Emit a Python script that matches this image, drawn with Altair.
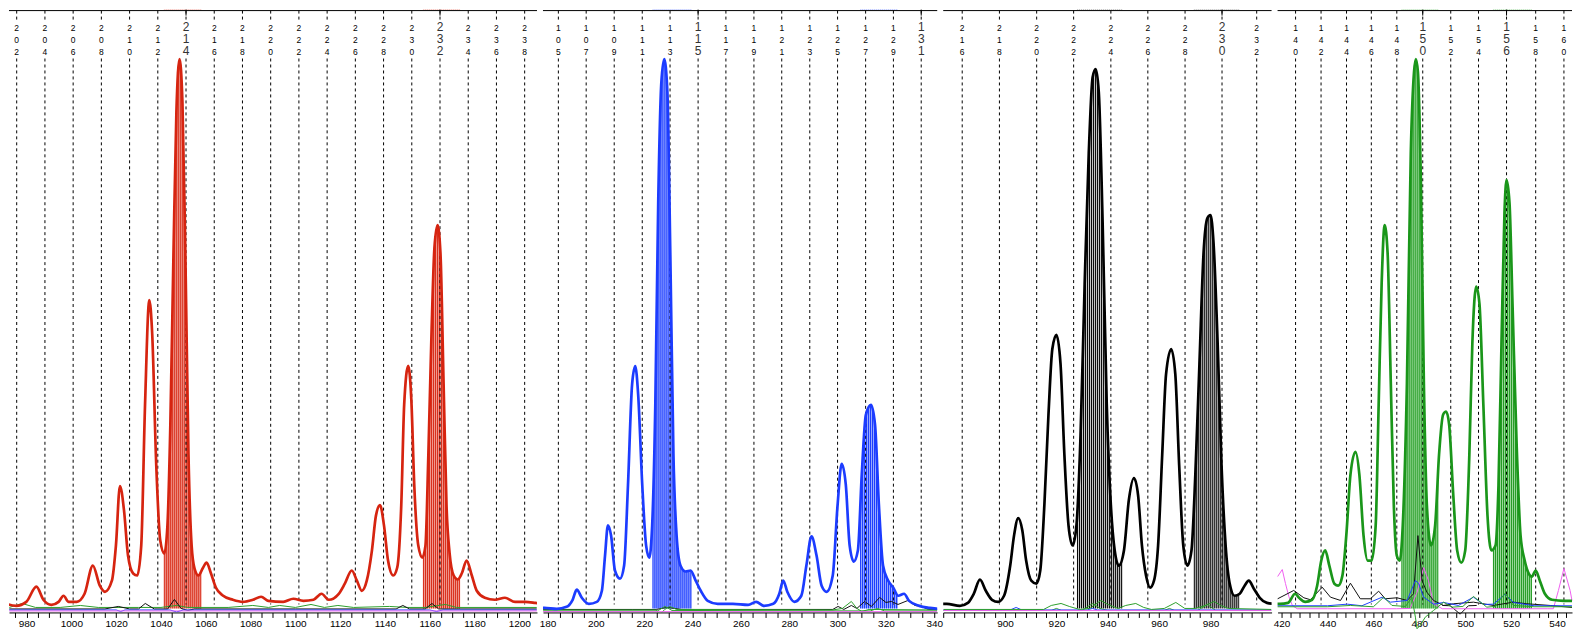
import altair as alt
import pandas as pd

PLOT_H = 604
FONT = "Liberation Sans"

# ---------------- Panel 1 : red dye ----------------
P1_DOMAIN = [972.16, 1207.9]
P1_WIDTH = 529
P1_BP = [970.9, 975.4, 979.9, 984.4, 987.5, 991.1, 994.3, 996.5, 998.8, 1002.4,
         1005.9, 1009.6, 1012.7, 1015.0, 1018.1, 1019.9, 1021.7, 1023.5, 1025.3, 1027.6,
         1029.4, 1031.2, 1032.9, 1034.8, 1036.1, 1037.9, 1039.7, 1041.5, 1042.9, 1044.2,
         1045.6, 1046.9, 1048.3, 1049.6, 1050.9, 1052.3, 1053.7, 1055.0, 1056.8, 1058.6,
         1060.4, 1062.2, 1064.5, 1067.6, 1072.1, 1076.6, 1081.1, 1084.7, 1087.9, 1094.6,
         1099.1, 1103.6, 1108.1, 1111.7, 1114.9, 1119.4, 1122.1, 1125.2, 1127.5, 1129.7,
         1131.9, 1134.2, 1136.0, 1137.8, 1139.6, 1141.4, 1143.7, 1145.5, 1147.3, 1148.6,
         1150.4, 1151.8, 1153.1, 1154.9, 1156.7, 1158.1, 1159.4, 1160.8, 1162.1, 1163.5,
         1164.8, 1166.2, 1167.5, 1168.9, 1170.7, 1172.5, 1174.3, 1176.5, 1178.8, 1181.0,
         1184.6, 1189.1, 1193.6, 1198.1, 1202.6, 1207.1, 1210.3]
P1_H = [8.6, 6.6, 10.6, 25.8, 12.7, 7.6, 10.6, 16.7, 10.6, 10.6,
        18.7, 47, 26.8, 20.7, 31.8, 67, 126.7, 102.5, 57, 39,
        37, 67, 208, 313, 279, 148, 72, 59, 87, 188,
        360, 501, 554.5, 511, 360, 158, 67, 44, 37, 44,
        50, 40, 25, 17, 12.7, 10.6, 12.7, 15.7, 11.6, 10.6,
        13.7, 11.6, 12.7, 18.7, 12.7, 18.7, 28.8, 42, 31.8, 21.7,
        31.8, 62, 97, 107.5, 87, 52, 37, 45, 107.5, 208,
        247, 213, 128, 67, 55, 67, 158, 279, 365, 388,
        360, 229, 107.5, 59, 37, 33, 39, 52, 37, 21.7,
        14.7, 12.7, 14.7, 10.6, 10.6, 9.6, 8.6]
P1_ALLELES = [202, 204, 206, 208, 210, 212, 214, 216, 218, 220, 222, 224, 226, 228, 230, 232, 234, 236, 238]
P1_ALLELE_BP = [975.6, 988.2, 1000.8, 1013.4, 1026.0, 1038.6, 1051.2, 1063.8, 1076.4, 1089.0,
                1101.6, 1114.2, 1126.8, 1139.4, 1152.0, 1164.6, 1177.2, 1189.8, 1202.4]
P1_CALLED = [214, 232]
P1_BINS = [[1041.5, 1058.2], [1157.2, 1173.6]]
P1_TICKS = list(range(975, 1210, 5))
P1_LABEL_RANGE = [975, 1205]
P1_GREEN_BP = [972.3, 978, 984, 995, 1004, 1012, 1030, 1040, 1047, 1052, 1070, 1081, 1088, 1093, 1100,
               1107, 1113, 1119, 1126, 1142, 1150, 1158, 1167, 1172, 1207.8]
P1_GREEN_H = [5, 9, 5, 5, 7, 5, 5, 5, 7, 5, 5, 7, 5, 7, 5, 8, 5, 7, 5, 6, 5, 5, 8, 5, 5]
P1_BLACK_BP = [972.3, 1015, 1021, 1026, 1030, 1033, 1037, 1043, 1046, 1049, 1052, 1055, 1100, 1145,
               1148, 1151, 1158, 1161, 1164, 1207.8]
P1_BLACK_H = [3.5, 3.5, 6, 3.5, 3.5, 9, 3.5, 3.5, 13, 4, 2, 3.5, 3.5, 3.5, 7, 3.5, 3.5, 9, 3.5, 3.5]
P1_BLUE_BP = [972.3, 1020, 1022, 1024, 1044, 1047, 1050, 1160, 1163, 1166, 1207.8]
P1_BLUE_H = [2.5, 2.5, 1, 2.5, 2.5, 0.5, 2.5, 2.5, 1, 2.5, 2.5]
P1_PINK_BP = [972.3, 1207.8]
P1_PINK_H = [1.5, 1.5]

# ---------------- Panel 2 : blue dye ----------------
P2_DOMAIN = [178.13, 341.22]
P2_WIDTH = 395
P2_BP = [178.0, 178.7, 183.8, 187.9, 190.4, 192.1, 194.2, 197.1, 200.4, 202.5, 203.8,
         205.0, 206.3, 207.9, 210.0, 211.7, 213.3, 215.0, 216.3, 217.5, 219.2,
         220.8, 222.1, 223.3, 224.6, 225.8, 227.1, 228.3, 229.6, 230.8, 232.1,
         233.4, 235.0, 237.1, 239.2, 241.3, 243.4, 246.3, 250.4, 256.7, 263.0,
         266.3, 269.6, 273.4, 275.9, 277.5, 279.2, 282.1, 285.0, 287.1, 289.2,
         291.3, 293.4, 295.5, 298.0, 300.0, 301.7, 303.4, 305.0, 306.7, 308.4,
         310.0, 311.7, 313.8, 315.5, 317.1, 318.8, 320.9, 323.0, 325.1, 327.5,
         329.6, 333.8, 338.0, 342.1, 345.5]
P2_H = [4.6, 4.6, 3.6, 5.6, 12.7, 22.8, 14.7, 8.6, 10.6, 21.7, 57,
        87.3, 77, 42, 33.8, 47, 127.7, 228.6, 246.7, 218.5, 127.7,
        67, 55, 87, 208, 410, 531, 554.5, 521, 360, 158,
        77.2, 47, 41, 42, 31.8, 21.7, 11.6, 8.6, 8.6, 7.6,
        10.6, 6.6, 8.6, 18.7, 32, 20.7, 10.6, 16.7, 47, 76.2,
        57, 26.8, 20.7, 37, 107.5, 149, 128, 67, 51, 62,
        138, 198, 208, 188, 107.5, 47, 32, 25, 16.7, 18.7,
        11.6, 6.6, 4.6, 3.6, 3.6]
P2_ALLELES = [105, 107, 109, 111, 113, 115, 117, 119, 121, 123, 125, 127, 129, 131]
P2_ALLELE_BP = [184.5, 196.0, 207.6, 219.2, 230.7, 242.3, 253.8, 265.4, 276.9, 288.5, 300.0, 311.6, 323.1, 334.6]
P2_CALLED = [115, 131]
P2_BINS = [[223.6, 239.6], [309.5, 325.0]]
P2_TICKS = list(range(180, 342, 5))
P2_LABEL_RANGE = [175, 345]
P2_BLACK_BP = [178.2, 215, 225, 229.5, 235.5, 298, 300.2, 302.6, 305.7, 308, 311.2, 314, 317.4, 320,
               322.3, 325, 329.1, 332, 334.6, 337.5, 341.2]
P2_BLACK_H = [3, 3, 3, 5, 3, 3, 6, 3, 7, 4, 11, 6, 15, 10, 11, 8, 12, 7, 6, 3, 3]
P2_GREEN_BP = [178.2, 225, 226.5, 228.5, 230.5, 233.5, 298, 302, 305.7, 308, 310, 313, 341.2]
P2_GREEN_H = [2.5, 2.5, -2, 3, 6, 3, 2.5, 4, 11, 4, 1, 3, 2.5]
P2_RED_BP = [178.2, 225.5, 228.6, 231.5, 313.5, 316.5, 319.5, 341.2]
P2_RED_H = [1.5, 1.5, 6, 2, 1.5, 4, 1.5, 1.5]
P2_PINK_BP = [178.2, 341.2]
P2_PINK_H = [0.8, 0.8]

# ---------------- Panel 3 : black dye ----------------
P3_DOMAIN = [875.9, 1003.8]
P3_WIDTH = 329
P3_BP = [875.5, 877.3, 882.4, 885.5, 887.8, 890.2, 892.5, 894.9, 897.3, 899.6, 902.0,
         903.5, 905.1, 906.7, 908.2, 910.2, 912.2, 913.7, 915.3, 916.9, 918.4,
         920.0, 921.6, 923.1, 924.7, 926.3, 927.8, 929.4, 931.0, 932.6, 934.1,
         935.3, 936.5, 938.0, 939.6, 941.2, 942.7, 944.3, 946.3, 948.2, 950.2,
         951.8, 953.3, 954.9, 956.5, 958.0, 959.6, 961.2, 962.7, 964.7, 966.3,
         967.8, 969.4, 971.0, 972.6, 974.1, 975.7, 977.3, 978.8, 980.0, 981.2,
         982.8, 984.3, 985.9, 987.5, 989.4, 991.4, 993.3, 994.9, 996.9, 999.2,
         1002.0, 1004.7]
P3_H = [8.6, 8.6, 6.6, 9.6, 18.7, 32.8, 21.7, 12.7, 10.6, 16.7, 47.0,
        77.2, 94.4, 82.3, 52.0, 31.8, 28.8, 41.9, 107.5, 198.3, 263.9,
        278.0, 248.8, 158.0, 87.3, 67.1, 87.3, 178.1, 329.5, 460.7, 536.3,
        544.4, 521.2, 390.0, 208.4, 107.5, 62.1, 47.0, 62.1, 112.5, 134.7,
        117.6, 67.1, 36.9, 24.8, 31.8, 67.1, 158.0, 238.7, 263.9, 238.7,
        147.9, 67.1, 47.0, 62.1, 137.8, 248.8, 359.8, 395.1, 398.1, 369.8,
        269.0, 147.9, 67.1, 28.8, 16.7, 18.7, 26.8, 31.8, 23.8, 14.7,
        9.6, 8.6]
P3_ALLELES = [216, 218, 220, 222, 224, 226, 228, 230, 232]
P3_ALLELE_BP = [883.3, 897.8, 912.3, 926.7, 941.2, 955.6, 970.1, 984.5, 998.0]
P3_CALLED = [230]
P3_BINS = [[928.2, 945.9], [973.7, 991.4]]
P3_TICKS = list(range(876, 1004, 4))
P3_LABEL_RANGE = [890, 990]
P3_RED_BP = [876.0, 915, 918, 921.8, 925, 929, 933, 937.3, 940, 944, 947, 950.9, 954, 957, 962, 966.5,
             970, 974, 978, 981.4, 984, 987, 1003.7]
P3_RED_H = [3, 3, 7, 9, 6, 3, 4, 12, 8, 4, 7, 9, 5, 3, 4, 10, 4, 4, 7, 11, 7, 4, 3]
P3_GREEN_BP = [876.0, 918, 920, 922, 930, 934.1, 937, 940, 962, 964, 966, 975, 978.8, 982, 1003.7]
P3_GREEN_H = [2, 2, 4, 2, 2, 9, 4, 2, 2, 4, 2, 2, 8, 2, 2]
P3_BLUE_BP = [876.0, 902, 904.3, 906.5, 932, 934, 936, 1003.7]
P3_BLUE_H = [2.5, 2.5, 5, 2.5, 2.5, 4, 2.5, 2.5]
P3_PINK_BP = [876.0, 1003.7]
P3_PINK_H = [2, 2]

# ---------------- Panel 4 : green dye ----------------
P4_DOMAIN = [418.26, 546.52]
P4_WIDTH = 295
P4_BP = [418.0, 419.3, 422.8, 425.9, 427.6, 430.3, 433.3, 435.5, 437.3, 439.0, 440.8,
         443.0, 444.7, 446.5, 448.2, 450.0, 452.2, 453.9, 455.7, 457.5, 459.2,
         461.0, 462.3, 463.6, 464.9, 466.2, 467.6, 468.9, 470.2, 471.5, 472.8,
         474.6, 476.3, 477.7, 478.5, 479.4, 480.7, 482.0, 483.3, 485.1, 486.9,
         488.6, 490.4, 491.7, 493.0, 494.8, 496.5, 498.3, 500.0, 501.8, 503.1,
         504.8, 506.2, 507.9, 509.7, 511.4, 513.2, 514.5, 515.8, 517.1, 518.0,
         519.3, 520.6, 522.4, 524.1, 525.9, 527.7, 529.0, 530.7, 532.5, 534.7,
         537.8, 543.0, 547.4, 550.9]
P4_H = [8.6, 8.6, 9.6, 18.7, 14.7, 10.6, 12.7, 26.8, 52.0, 62.1, 47.0,
        28.8, 26.8, 36.9, 77.2, 137.8, 161.0, 137.8, 77.2, 52.0, 52.0,
        87.3, 208.4, 329.5, 388.0, 359.8, 228.6, 107.5, 57.0, 52.0, 87.3,
        228.6, 460.7, 541.4, 554.5, 541.4, 430.4, 228.6, 107.5, 67.1, 87.3,
        158.0, 198.3, 201.3, 188.2, 117.6, 62.1, 50.0, 62.1, 158.0, 269.0,
        326.5, 309.3, 208.4, 97.4, 62.1, 67.1, 127.7, 269.0, 400.1, 433.4,
        410.2, 309.3, 168.0, 77.2, 52.0, 38.9, 35.9, 41.9, 31.8, 18.7,
        12.7, 11.6, 11.6, 11.6]
P4_ALLELES = [140, 142, 144, 146, 148, 150, 152, 154, 156, 158, 160]
P4_ALLELE_BP = [426.1, 437.2, 448.3, 459.1, 470.2, 481.5, 493.7, 505.8, 518.0, 530.7, 543.0]
P4_CALLED = [150, 156]
P4_BINS = [[472.4, 488.2], [512.3, 529.0]]
P4_TICKS = list(range(420, 547, 4))
P4_LABEL_RANGE = [415, 550]
P4_PINK_BP = [418.3, 420.3, 421.7, 423.2, 424.7, 426.8, 440, 470, 476, 479, 481.9, 484, 486.2, 490,
              520, 536, 538.4, 540.6, 543.0, 545.7, 546.5]
P4_PINK_H = [36, 43, 29, 15.7, 7, 3.7, 3.7, 3.7, 4, 20, 45, 32, 8.7, 3.7, 3.7, 3.7, 3.7, 22, 44, 22, 12]
P4_BLACK_BP = [418.3, 425.3, 429.7, 432.6, 437.7, 441.3, 445.7, 450.0, 454.3, 458.7, 462.3, 465.2,
               470.3, 474.7, 477.5, 479.4, 481.2, 483.3, 486.2, 490.6, 494.9, 503.6, 512.3, 521.0,
               526.8, 537.0, 546.5]
P4_BLACK_H = [13.7, 22, 14.7, 12.7, 25.3, 15.3, 12, 29.3, 13.7, 13.7, 21.3, 13.7, 14.7, 12, 18.7, 77,
              32, 20.3, 12, 7, 8.7, 10.3, 7, 10.3, 8.7, 7, 5]
P4_BLUE_BP = [418.3, 440, 448.6, 455, 463.8, 467.4, 474.7, 478.3, 479.7, 481.9, 486.2, 490.6, 497,
              503.6, 508, 512.3, 517.4, 521.0, 530, 546.5]
P4_BLUE_H = [6.7, 6.7, 8.3, 6.7, 15.3, 10.3, 12, 32, 29, 15.3, 8.3, 10, 7, 15.3, 8, 8.3, 18.3, 10, 6.7, 6.7]
P4_RED_BP = [418.3, 440, 450, 460, 464.5, 468.1, 474, 476.8, 478.3, 479.0, 480.4, 482.6, 486.2, 490.6,
             494.2, 499, 503.6, 509.4, 513, 517.4, 521, 530, 546.5]
P4_RED_H = [5.7, 5.7, 7, 5.7, 15.3, 7, 6, 15.3, -4.7, -16.3, -13, -4.7, 2, 10.3, 5.3, 6, 16, 5.3, 6,
            19.3, 7, 5.7, 5.7]
P4_GRAY_BP = [490, 493.5, 497.8, 501.4, 505]
P4_GRAY_H = [7, 6.7, -1.7, 6.7, 7]

NOISE_COLORS = {"green": "#2ca02c", "black": "#111111", "blue": "#2040ff",
                "pink": "#f060f0", "red": "#e3261a", "gray": "#8a8a8a"}


def noise_frame(pairs):
    rows = []
    for name, xs, hs in pairs:
        for x, h in zip(xs, hs):
            rows.append({"bp": x, "h": h, "dye": name})
    return pd.DataFrame(rows)


def panel(bp, h, color, pale, alleles, allele_bp, called, bins, noise, domain, width, ticks,
          label_range, noise_clip=True):
    xsc = alt.Scale(domain=domain, nice=False, zero=False)
    ysc = alt.Scale(domain=[0, PLOT_H], nice=False, zero=False)
    lo, hi = label_range
    axis = alt.Axis(values=ticks,
                    labelExpr=f"datum.value % 20 == 0 && datum.value > {lo} && datum.value < {hi} ? datum.label : ''",
                    format="d", tickSize=5, tickColor="black", tickWidth=1,
                    domainColor="black", domainWidth=1, labelFont=FONT, labelFontSize=10,
                    labelColor="black", labelPadding=1, labelOverlap=False,
                    labelFlush=False, grid=False, title=None)
    trace = pd.DataFrame({"bp": bp, "h": h})
    al = pd.DataFrame({
        "bp": allele_bp,
        "allele": alleles,
        "lab": ["\n".join(str(a)) for a in alleles],
        "called": [a in called for a in alleles],
    })
    bins_df = pd.DataFrame({"start": [b[0] for b in bins], "end": [b[1] for b in bins]})
    px_per_bp = width / (domain[1] - domain[0])
    step = 2.0 / px_per_bp

    def X(f):
        return alt.X(f, type="quantitative", scale=xsc, axis=axis)

    def Y(f):
        return alt.Y(f, type="quantitative", scale=ysc, axis=None)

    layers = []
    # pale fill of the called bins
    layers.append(alt.Chart(bins_df).mark_rect(color=pale).encode(
        x=X("start"), x2="end", y=alt.value(0), y2=alt.value(600)))
    # hatching lines
    for s, e in bins:
        layers.append(alt.Chart(alt.sequence(s, e, step, as_="s")).mark_rule(
            color=color, strokeWidth=1).encode(x=X("s"), y=alt.value(0), y2=alt.value(600)))
    # white mask above the trace inside the bins
    for s, e in bins:
        layers.append(alt.Chart(trace).transform_filter(
            alt.FieldRangePredicate(field="bp", range=[s - 2.5, e + 2.5])
        ).transform_calculate(top=str(PLOT_H)).mark_area(
            color="white", opacity=1, interpolate="monotone").encode(
            x=X("bp"), y=Y("h"), y2=alt.Y2("top:Q")))
    # dashed allele bin lines
    layers.append(alt.Chart(al).mark_rule(color="black", strokeWidth=1, strokeDash=[3, 3]).encode(
        x=X("bp"), y=alt.value(1), y2=alt.value(12)))
    layers.append(alt.Chart(al).mark_rule(color="black", strokeWidth=1, strokeDash=[3, 3]).encode(
        x=X("bp"), y=alt.value(49), y2=alt.value(596)))
    # other dye channels
    nz = noise_frame(noise)
    names = list(dict.fromkeys(nz["dye"]))
    layers.append(alt.Chart(nz).mark_line(strokeWidth=1, clip=noise_clip).encode(
        x=X("bp"), y=Y("h"),
        color=alt.Color("dye:N", scale=alt.Scale(domain=names, range=[NOISE_COLORS[n] for n in names]),
                        legend=None)))
    # main trace
    layers.append(alt.Chart(trace).mark_line(color=color, strokeWidth=2.7, interpolate="monotone",
                                             clip=True).encode(x=X("bp"), y=Y("h")))
    # top line with ticks at the called alleles
    one = pd.DataFrame({"v": [0]})
    layers.append(alt.Chart(one).mark_rule(color="black", strokeWidth=1).encode(
        x=alt.value(0), x2=alt.value(width), y=alt.value(1)))
    layers.append(alt.Chart(al).transform_filter("datum.called").mark_rule(
        color="black", strokeWidth=1).encode(x=X("bp"), y=alt.value(0), y2=alt.value(6)))
    # allele labels written vertically
    layers.append(alt.Chart(al).transform_filter("!datum.called").mark_text(
        font=FONT, fontSize=8.5, lineBreak="\n", lineHeight=12.3, baseline="top", align="center",
        color="#000000").encode(x=X("bp"), y=alt.value(14), text="lab:N"))
    layers.append(alt.Chart(al).transform_filter("datum.called").mark_text(
        font=FONT, fontSize=12, lineBreak="\n", lineHeight=12, baseline="top", align="center",
        color="#333333").encode(x=X("bp"), y=alt.value(12), text="lab:N"))
    return alt.layer(*layers).properties(width=width, height=PLOT_H)


p1 = panel(P1_BP, P1_H, "#d62410", "#f3a49b", P1_ALLELES, P1_ALLELE_BP, P1_CALLED, P1_BINS,
           [("green", P1_GREEN_BP, P1_GREEN_H), ("black", P1_BLACK_BP, P1_BLACK_H),
            ("blue", P1_BLUE_BP, P1_BLUE_H), ("pink", P1_PINK_BP, P1_PINK_H)],
           P1_DOMAIN, P1_WIDTH, P1_TICKS, P1_LABEL_RANGE)
p2 = panel(P2_BP, P2_H, "#1c3cff", "#9aabff", P2_ALLELES, P2_ALLELE_BP, P2_CALLED, P2_BINS,
           [("black", P2_BLACK_BP, P2_BLACK_H), ("green", P2_GREEN_BP, P2_GREEN_H),
            ("red", P2_RED_BP, P2_RED_H), ("pink", P2_PINK_BP, P2_PINK_H)],
           P2_DOMAIN, P2_WIDTH, P2_TICKS, P2_LABEL_RANGE)
p3 = panel(P3_BP, P3_H, "#000000", "#cfcfcf", P3_ALLELES, P3_ALLELE_BP, P3_CALLED, P3_BINS,
           [("green", P3_GREEN_BP, P3_GREEN_H), ("blue", P3_BLUE_BP, P3_BLUE_H),
            ("pink", P3_PINK_BP, P3_PINK_H), ("red", P3_RED_BP, P3_RED_H)],
           P3_DOMAIN, P3_WIDTH, P3_TICKS, P3_LABEL_RANGE)
p4 = panel(P4_BP, P4_H, "#1a961a", "#a6dea6", P4_ALLELES, P4_ALLELE_BP, P4_CALLED, P4_BINS,
           [("gray", P4_GRAY_BP, P4_GRAY_H), ("pink", P4_PINK_BP, P4_PINK_H),
            ("black", P4_BLACK_BP, P4_BLACK_H), ("blue", P4_BLUE_BP, P4_BLUE_H),
            ("red", P4_RED_BP, P4_RED_H)],
           P4_DOMAIN, P4_WIDTH, P4_TICKS, P4_LABEL_RANGE, noise_clip=False)

chart = alt.hconcat(p1, p2, p3, p4, spacing=6, bounds="flush").properties(
    padding=0).configure_view(strokeWidth=0)

chart.save("out.html", embed_options={"renderer": "svg", "actions": False})
